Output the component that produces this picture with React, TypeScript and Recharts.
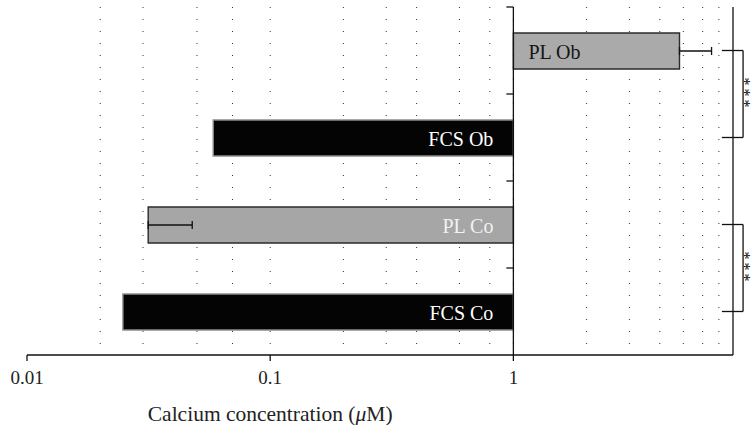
import React from 'react';
import { BarChart, Bar, XAxis, YAxis, CartesianGrid, Cell, ErrorBar, LabelList, ReferenceLine } from 'recharts';

// categories, top to bottom
const categories = ['PL Ob', 'FCS Ob', 'PL Co', 'FCS Co'];
// calcium concentration (uM), bars drawn from 1
const calciumMeans = [4.82, 0.0583, 0.0315, 0.0248];
const calciumErrors = [1.71, null, 0.0163, null];
const barBase = 1;

const xDomain = [0.01, 8];
const xTicks = [0.01, 0.1, 1];
const gridValues = [
  0.02, 0.03, 0.04, 0.05, 0.06, 0.07, 0.08, 0.09,
  0.1, 0.2, 0.3, 0.4, 0.5, 0.6, 0.7, 0.8, 0.9,
  1, 2, 3, 4, 5, 6, 7,
];

// significance brackets between pairs of bars
const bracketPairs = [
  ['PL Ob', 'FCS Ob'],
  ['PL Co', 'FCS Co'],
];
const bracketText = '***';
const bracketTipX = 7.2;
const bracketSpineX = 8.8;

const barFills = ['#aaaaaa', '#040404', '#a6a6a6', '#040404'];
const barStrokes = ['#2b2b2b', '#8c8c8c', '#2b2b2b', '#8c8c8c'];
const labelColors = ['#151515', '#ffffff', '#f2f2f2', '#ffffff'];

const FONT = '"Liberation Serif", "DejaVu Serif", serif';
const INK = '#111';

const data = categories.map((name, i) => ({
  name,
  range: [barBase, calciumMeans[i]],
  err: calciumErrors[i] == null ? undefined : [0, calciumErrors[i]],
}));

const renderBarLabel = (props: any) => {
  const { x, y, width, height, index, value } = props;
  const left = Math.min(x, x + width);
  const right = Math.max(x, x + width);
  const growsRight = calciumMeans[index] >= barBase;
  return (
    <text
      x={growsRight ? left + 15 : right - 20}
      y={y + height / 2 + 1}
      textAnchor={growsRight ? 'start' : 'end'}
      dominantBaseline="central"
      fontFamily={FONT}
      fontSize={20}
      fill={labelColors[index]}
    >
      {value}
    </text>
  );
};

// vertical axis at x = 1 with ticks between the categories
const AxisAtOne = (p: any) => {
  const top = Math.min(p.y1, p.y2);
  const bottom = Math.max(p.y1, p.y2);
  const step = (bottom - top) / categories.length;
  return (
    <g>
      <line x1={p.x1} x2={p.x1} y1={top} y2={bottom} stroke={INK} strokeWidth={1.3} />
      {categories.map((c, i) => (
        <line key={c} x1={p.x1 - 7} x2={p.x1} y1={top + i * step} y2={top + i * step} stroke={INK} strokeWidth={1.3} />
      ))}
    </g>
  );
};

const renderStars = (props: any) => {
  const vb = props.viewBox || {};
  const cx = (vb.x ?? vb.x1) - 4;
  const cy = (vb.y ?? vb.y1) + (vb.height ?? 0) / 2;
  return (
    <text
      x={cx}
      y={cy}
      textAnchor="middle"
      transform={`rotate(90 ${cx} ${cy})`}
      fontFamily={FONT}
      fontSize={16}
      letterSpacing={3}
      fill={INK}
    >
      {bracketText}
    </text>
  );
};

const renderTitle = (props: any) => {
  const vb = props.viewBox || {};
  const cx = vb.x ?? vb.x1;
  const cy = (vb.y ?? 0) + (vb.height ?? 0) + 59;
  return (
    <text x={cx} y={cy} textAnchor="middle" dominantBaseline="central" fontFamily={FONT} fontSize={21.5} fill="#222">
      Calcium concentration (<tspan fontStyle="italic">μ</tspan>M)
    </text>
  );
};

export default function App() {
  return (
    <div style={{ position: 'absolute', left: 0, top: 0, background: '#fff' }}>
      <BarChart
        width={752}
        height={425}
        data={data}
        layout="vertical"
        margin={{ top: 7, right: 19, left: 27, bottom: 0 }}
        barSize={36}
      >
        <CartesianGrid horizontal={false} verticalValues={gridValues} stroke="#333" strokeDasharray="1 11" />
        <XAxis
          type="number"
          scale="log"
          domain={xDomain}
          allowDataOverflow
          ticks={xTicks}
          tickFormatter={(v: number) => String(v)}
          height={70}
          tickSize={6}
          tickMargin={10}
          axisLine={{ stroke: INK, strokeWidth: 1.3 }}
          tickLine={{ stroke: INK, strokeWidth: 1.3 }}
          tick={{ fontFamily: FONT, fontSize: 19, fill: '#222' }}
        />
        <YAxis
          type="category"
          dataKey="name"
          width={0}
          tick={false}
          tickLine={false}
          axisLine={{ stroke: INK, strokeWidth: 1.3 }}
        />
        <Bar dataKey="range" isAnimationActive={false}>
          {data.map((d, i) => (
            <Cell key={d.name} fill={barFills[i]} stroke={barStrokes[i]} strokeWidth={1.4} />
          ))}
          <LabelList dataKey="name" content={renderBarLabel} />
          <ErrorBar dataKey="err" direction="x" width={4} stroke={INK} strokeWidth={1.3} isAnimationActive={false} />
        </Bar>
        <ReferenceLine x={barBase} shape={AxisAtOne} />
        <ReferenceLine x={xDomain[1]} stroke={INK} strokeWidth={1.3} />
        <ReferenceLine x={0.1} stroke="none" label={renderTitle} />
        {bracketPairs.map(([a, b]) => (
          <React.Fragment key={a}>
            <ReferenceLine ifOverflow="visible" segment={[{ x: bracketTipX, y: a }, { x: bracketSpineX, y: a }]} stroke={INK} strokeWidth={1.3} />
            <ReferenceLine ifOverflow="visible" segment={[{ x: bracketSpineX, y: a }, { x: bracketSpineX, y: b }]} stroke={INK} strokeWidth={1.3} label={renderStars} />
            <ReferenceLine ifOverflow="visible" segment={[{ x: bracketTipX, y: b }, { x: bracketSpineX, y: b }]} stroke={INK} strokeWidth={1.3} />
          </React.Fragment>
        ))}
      </BarChart>
    </div>
  );
}
